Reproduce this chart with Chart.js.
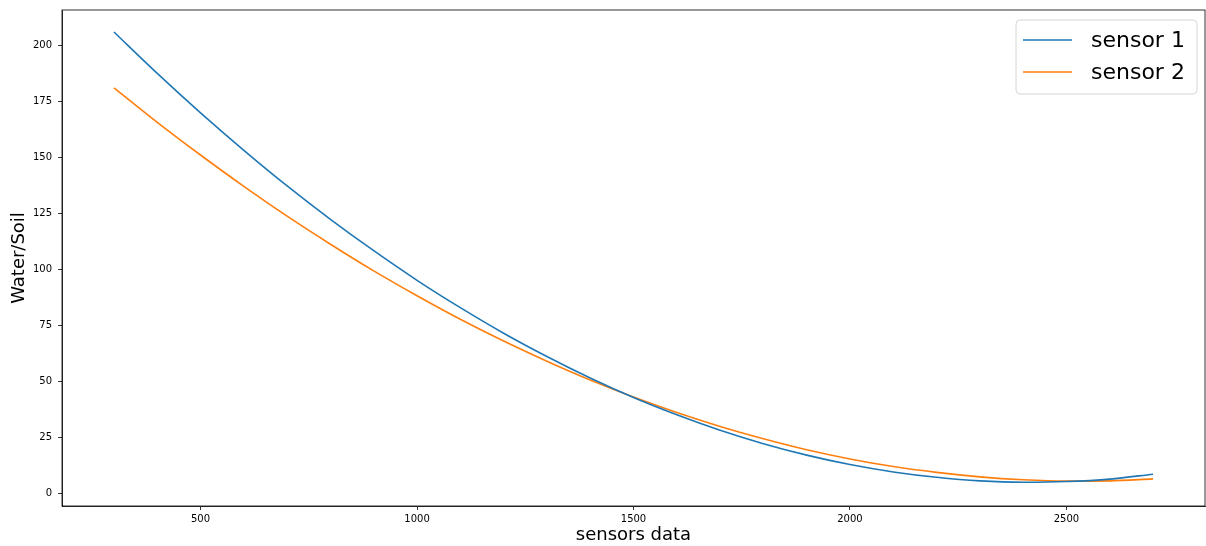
<!DOCTYPE html>
<html>
<head>
<meta charset="utf-8">
<script src="https://cdn.jsdelivr.net/npm/chart.js@4"></script>
<style>
  html, body { margin: 0; padding: 0; background: #fff; }
  #wrap { width: 1206px; height: 546px; }
</style>
</head>
<body>
<div id="wrap"><canvas id="c" width="1206" height="546"></canvas></div>
<script>
// ---- data ----
const xValues = [300, 400, 500, 600, 700, 800, 900, 1000, 1100, 1200, 1300, 1400, 1500,
                 1600, 1700, 1800, 1900, 2000, 2100, 2200, 2300, 2400, 2500, 2600, 2700];
const sensor1 = [205.9, 187.4, 169.8, 153.1, 137.2, 122.3, 108.3, 95.1, 82.9, 71.5, 61.1, 51.5, 42.8,
                 35.1, 28.2, 22.2, 17.1, 12.9, 9.6, 7.2, 5.6, 5.0, 5.3, 6.4, 8.6];
const sensor2 = [181.0, 165.6, 151.0, 137.0, 123.7, 111.2, 99.3, 88.2, 77.7, 68.0, 59.0, 50.6, 43.0,
                 36.1, 29.9, 24.4, 19.5, 15.4, 12.0, 9.4, 7.4, 6.1, 5.5, 5.6, 6.5];
const seriesNames = ['sensor 1', 'sensor 2'];
const xTickValues = [500, 1000, 1500, 2000, 2500];
const yTickValues = [0, 25, 50, 75, 100, 125, 150, 175, 200];
const xTitle = 'sensors data';
const yTitle = 'Water/Soil';

Chart.defaults.font.family = "'DejaVu Sans', sans-serif";
Chart.defaults.color = '#000';

const toPoints = ys => xValues.map((x, i) => ({ x: x, y: ys[i] }));

const framePlugin = {
  id: 'frame',
  afterDraw(chart) {
    const { ctx, chartArea: a } = chart;
    ctx.save();
    ctx.strokeStyle = '#000';
    ctx.lineWidth = 0.8;
    ctx.strokeRect(a.left, a.top, a.right - a.left, a.bottom - a.top);
    ctx.restore();
  }
};

const legendPlugin = {
  id: 'mplLegend',
  afterDraw(chart) {
    const { ctx, chartArea: a } = chart;
    const w = 181, h = 74;
    const x0 = a.right - 8 - w, y0 = a.top + 10;
    ctx.save();
    const r = 4;
    ctx.beginPath();
    ctx.moveTo(x0 + r, y0);
    ctx.lineTo(x0 + w - r, y0);
    ctx.quadraticCurveTo(x0 + w, y0, x0 + w, y0 + r);
    ctx.lineTo(x0 + w, y0 + h - r);
    ctx.quadraticCurveTo(x0 + w, y0 + h, x0 + w - r, y0 + h);
    ctx.lineTo(x0 + r, y0 + h);
    ctx.quadraticCurveTo(x0, y0 + h, x0, y0 + h - r);
    ctx.lineTo(x0, y0 + r);
    ctx.quadraticCurveTo(x0, y0, x0 + r, y0);
    ctx.closePath();
    ctx.fillStyle = 'rgba(255,255,255,0.8)';
    ctx.fill();
    ctx.strokeStyle = '#d6d6d6';
    ctx.lineWidth = 1;
    ctx.stroke();
    ctx.font = "22px 'DejaVu Sans', sans-serif";
    ctx.textBaseline = 'middle';
    ctx.textAlign = 'left';
    chart.data.datasets.forEach((ds, i) => {
      const cy = y0 + 20 + i * 32;
      ctx.strokeStyle = ds.borderColor;
      ctx.lineWidth = 1.6;
      ctx.beginPath();
      ctx.moveTo(x0 + 7, cy);
      ctx.lineTo(x0 + 56, cy);
      ctx.stroke();
      ctx.fillStyle = '#000';
      ctx.fillText(ds.label, x0 + 75, cy + 1);
    });
    ctx.restore();
  }
};

new Chart(document.getElementById('c'), {
  type: 'scatter',
  data: {
    datasets: [
      { label: seriesNames[0], data: toPoints(sensor1), borderColor: '#1f77b4', backgroundColor: '#1f77b4',
        showLine: true, pointRadius: 0, borderWidth: 1.6, cubicInterpolationMode: 'monotone' },
      { label: seriesNames[1], data: toPoints(sensor2), borderColor: '#ff7f0e', backgroundColor: '#ff7f0e',
        showLine: true, pointRadius: 0, borderWidth: 1.6, cubicInterpolationMode: 'monotone' }
    ]
  },
  options: {
    responsive: false,
    animation: false,
    devicePixelRatio: 1,
    layout: { padding: { top: 10, right: 1, left: 0, bottom: 0 } },
    plugins: { legend: { display: false }, tooltip: { enabled: false } },
    scales: {
      x: {
        type: 'linear', min: 180, max: 2820,
        afterBuildTicks: s => { s.ticks = xTickValues.map(v => ({ value: v })); },
        afterFit: s => { s.height = 40; s.paddingLeft = 0; s.paddingRight = 0; },
        ticks: { font: { size: 10 }, color: '#000', padding: 3, maxRotation: 0, callback: v => String(v) },
        grid: { drawOnChartArea: false, drawTicks: true, tickLength: 4, tickColor: '#000', tickWidth: 0.8 },
        border: { display: true, color: '#000', width: 0.8 },
        title: { display: true, text: xTitle, font: { size: 18 }, color: '#000', padding: { top: 2, bottom: 0 } }
      },
      y: {
        type: 'linear', min: -5.6, max: 215.7,
        afterBuildTicks: s => { s.ticks = yTickValues.map(v => ({ value: v })); },
        afterFit: s => { s.width = 62; s.paddingTop = 0; s.paddingBottom = 0; },
        ticks: { font: { size: 10 }, color: '#000', padding: 6, callback: v => String(v) },
        grid: { drawOnChartArea: false, drawTicks: true, tickLength: 4, tickColor: '#000', tickWidth: 0.8 },
        border: { display: true, color: '#000', width: 0.8 },
        title: { display: true, text: yTitle, font: { size: 18 }, color: '#000', padding: { top: 9, bottom: 0 } }
      }
    }
  },
  plugins: [framePlugin, legendPlugin]
});
</script>
</body>
</html>
